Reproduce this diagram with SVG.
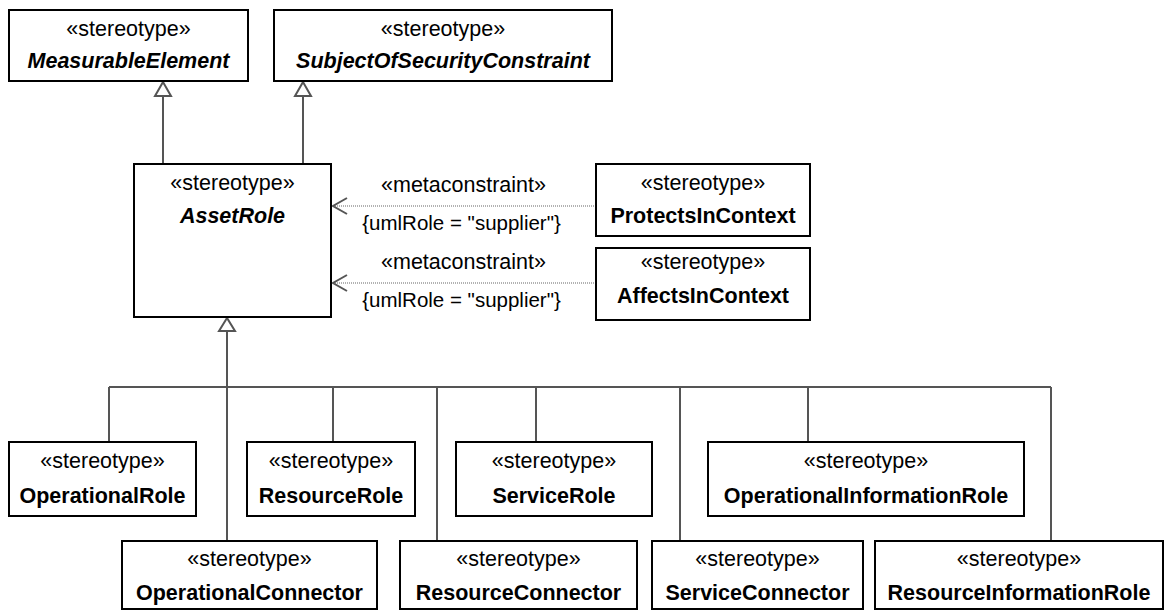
<svg xmlns="http://www.w3.org/2000/svg" width="1167" height="611" viewBox="0 0 1167 611">
<style>
.box{fill:#fff;stroke:#000;stroke-width:2}
.t{font-family:"Liberation Sans",Arial,sans-serif;font-size:21.5px;fill:#000;text-anchor:middle}
.s{font-size:20.5px}
.b{font-weight:bold}
.i{font-style:italic}
.c{fill:none;stroke:#555;stroke-width:2}
.d{fill:none;stroke:#999;stroke-width:1.5;stroke-dasharray:1 1}
.tri{fill:#fff;stroke:#555;stroke-width:2}
.oa{fill:none;stroke:#555;stroke-width:2}
</style>
<g id="connectors">
<path class="c" d="M163 96V164M303 96V164"/>
<polygon class="tri" points="163,82 155,96 171,96"/>
<polygon class="tri" points="303,82 295,96 311,96"/>
<path class="c" d="M227 331V541M109 387H1051M109 387V442M333 387V442M437 387V541M536 387V442M680 387V541M808 387V442M1051 387V541"/>
<polygon class="tri" points="227,318 219,331 235,331"/>
<path class="d" d="M333 206H596M333 283H596"/>
<path class="oa" d="M347 198L333 206L347 214M347 275L333 283L347 291"/>
<text class="t" x="463.5" y="192">«metaconstraint»</text>
<text class="t s" x="461.5" y="230">{umlRole = "supplier"}</text>
<text class="t" x="463.5" y="269">«metaconstraint»</text>
<text class="t s" x="461.5" y="307">{umlRole = "supplier"}</text>
</g>
<g id="MeasurableElement"><rect class="box" x="9" y="10" width="239" height="71"/><text class="t" x="128.5" y="36">«stereotype»</text><text class="t b i" x="128.5" y="68">MeasurableElement</text></g>
<g id="SubjectOfSecurityConstraint"><rect class="box" x="274" y="10" width="338" height="71"/><text class="t" x="443" y="36">«stereotype»</text><text class="t b i" x="443" y="68">SubjectOfSecurityConstraint</text></g>
<g id="AssetRole"><rect class="box" x="134" y="164" width="197" height="153"/><text class="t" x="232.5" y="190">«stereotype»</text><text class="t b i" x="232.5" y="223">AssetRole</text></g>
<g id="ProtectsInContext"><rect class="box" x="596" y="164" width="214" height="72"/><text class="t" x="703" y="190">«stereotype»</text><text class="t b" x="703" y="223">ProtectsInContext</text></g>
<g id="AffectsInContext"><rect class="box" x="596" y="248" width="214" height="72"/><text class="t" x="703" y="269">«stereotype»</text><text class="t b" x="703" y="303">AffectsInContext</text></g>
<g id="OperationalRole"><rect class="box" x="9" y="442" width="187" height="74"/><text class="t" x="102.5" y="468">«stereotype»</text><text class="t b" x="102.5" y="503">OperationalRole</text></g>
<g id="ResourceRole"><rect class="box" x="247" y="442" width="168" height="74"/><text class="t" x="331" y="468">«stereotype»</text><text class="t b" x="331" y="503">ResourceRole</text></g>
<g id="ServiceRole"><rect class="box" x="456" y="442" width="196" height="74"/><text class="t" x="554" y="468">«stereotype»</text><text class="t b" x="554" y="503">ServiceRole</text></g>
<g id="OperationalInformationRole"><rect class="box" x="708" y="442" width="316" height="74"/><text class="t" x="866" y="468">«stereotype»</text><text class="t b" x="866" y="503">OperationalInformationRole</text></g>
<g id="OperationalConnector"><rect class="box" x="122" y="541" width="255" height="68"/><text class="t" x="249.5" y="566">«stereotype»</text><text class="t b" x="249.5" y="600">OperationalConnector</text></g>
<g id="ResourceConnector"><rect class="box" x="400" y="541" width="237" height="68"/><text class="t" x="518.5" y="566">«stereotype»</text><text class="t b" x="518.5" y="600">ResourceConnector</text></g>
<g id="ServiceConnector"><rect class="box" x="652" y="541" width="211" height="68"/><text class="t" x="757.5" y="566">«stereotype»</text><text class="t b" x="757.5" y="600">ServiceConnector</text></g>
<g id="ResourceInformationRole"><rect class="box" x="875" y="541" width="288" height="68"/><text class="t" x="1019" y="566">«stereotype»</text><text class="t b" x="1019" y="600">ResourceInformationRole</text></g>
</svg>
